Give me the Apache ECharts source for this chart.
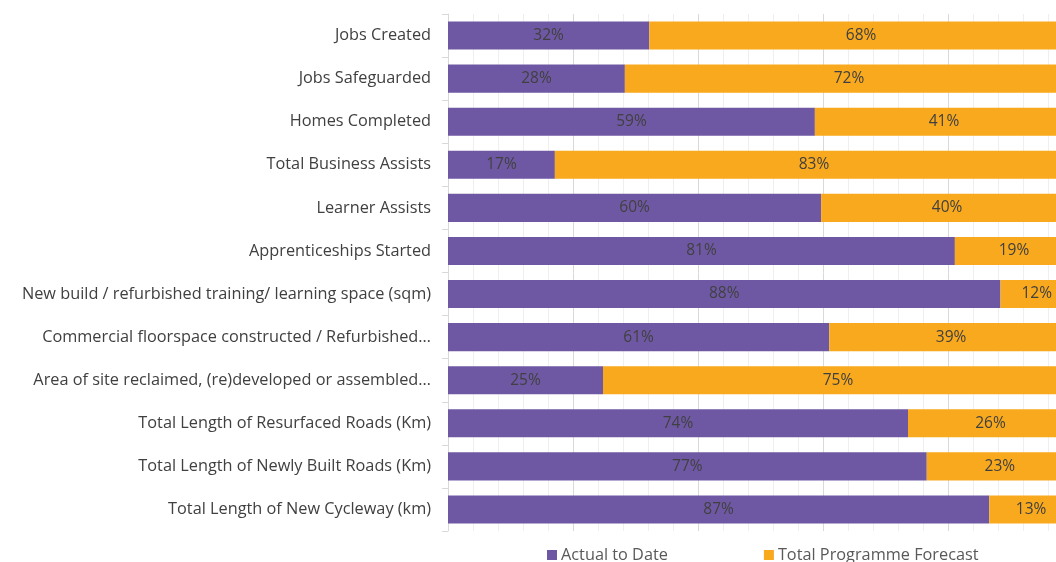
<!DOCTYPE html>
<html>
<head>
<meta charset="utf-8">
<script src="https://cdn.jsdelivr.net/npm/echarts@6/dist/echarts.min.js"></script>
<style>
html,body{margin:0;padding:0;background:#fff;}
#chart{width:1056px;height:562px;}
</style>
</head>
<body>
<div id="chart"></div>
<script>
const categories = [
  "Jobs Created",
  "Jobs Safeguarded",
  "Homes Completed",
  "Total Business Assists",
  "Learner Assists",
  "Apprenticeships Started",
  "New build / refurbished training/ learning space (sqm)",
  "Commercial floorspace constructed / Refurbished…",
  "Area of site reclaimed, (re)developed or assembled…",
  "Total Length of Resurfaced Roads (Km)",
  "Total Length of Newly Built Roads (Km)",
  "Total Length of New Cycleway (km)"
];
const actualToDate = [32.2, 28.3, 58.7, 17.1, 59.7, 81.1, 88.4, 61.0, 24.8, 73.6, 76.6, 86.6];
const programmeForecast = [67.8, 71.7, 41.3, 82.9, 40.3, 18.9, 11.6, 39.0, 75.2, 26.4, 23.4, 13.4];
const seriesNames = ["Actual to Date", "Total Programme Forecast"];

const FONT = "Open Sans";
const chart = echarts.init(document.getElementById('chart'), null, {renderer: 'canvas'});
const labelCfg = {
  show: true, position: 'inside', color: '#404040', fontFamily: FONT, fontSize: 15.5,
  formatter: p => Math.round(p.value) + '%'
};
chart.setOption({
  animation: false,
  backgroundColor: '#ffffff',
  grid: {left: 448, width: 625, top: 14, bottom: 31, containLabel: false, outerBoundsMode: 'none'},
  legend: {
    left: 542, top: 542,
    itemWidth: 10, itemHeight: 10, itemGap: 96, icon: 'rect',
    textStyle: {color: '#595959', fontFamily: FONT, fontSize: 16.3, padding: [0,0,0,-1]},
    data: seriesNames
  },
  xAxis: {
    type: 'value', min: 0, max: 100, interval: 20,
    axisLabel: {show: false},
    axisLine: {show: false}, axisTick: {show: false},
    splitLine: {show: true, lineStyle: {color: '#d9d9d9', width: 1}},
    minorTick: {show: false, splitNumber: 5},
    minorSplitLine: {show: true, lineStyle: {color: '#efefef', width: 1}}
  },
  yAxis: {
    type: 'category', data: categories, inverse: true,
    axisLine: {show: true, lineStyle: {color: '#d9d9d9'}},
    axisTick: {show: true, length: 6, lineStyle: {color: '#d9d9d9'}},
    axisLabel: {color: '#404040', fontFamily: FONT, fontSize: 16.3, margin: 17}
  },
  series: [
    {name: seriesNames[0], type: 'bar', stack: 'total', data: actualToDate,
     barCategoryGap: '35%', itemStyle: {color: '#6f58a3'}, label: labelCfg},
    {name: seriesNames[1], type: 'bar', stack: 'total', data: programmeForecast,
     barCategoryGap: '35%', itemStyle: {color: '#f9a91d'}, label: labelCfg}
  ]
});
</script>
</body>
</html>
